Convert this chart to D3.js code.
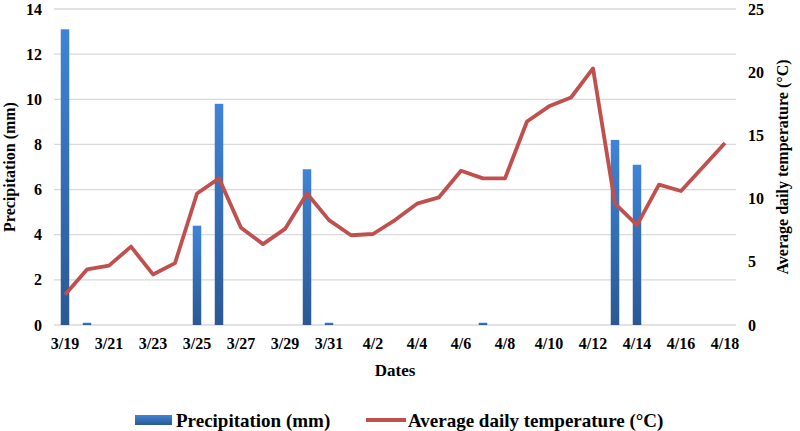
<!DOCTYPE html>
<html><head><meta charset="utf-8">
<script src="https://cdn.jsdelivr.net/npm/d3@7"></script>
<style>body{margin:0;background:#fff}svg{display:block}</style>
</head><body>
<svg id="c" width="800" height="431"></svg>
<script>
const dates = ["3/19","3/20","3/21","3/22","3/23","3/24","3/25","3/26","3/27","3/28","3/29","3/30","3/31","4/1","4/2","4/3","4/4","4/5","4/6","4/7","4/8","4/9","4/10","4/11","4/12","4/13","4/14","4/15","4/16","4/17","4/18"];
const precipitation = [13.1,0.1,0,0,0,0,4.4,9.8,0,0,0,6.9,0.1,0,0,0,0,0,0,0.1,0,0,0,0,0,8.2,7.1,0,0,0,0];
const temperature = [2.4,4.4,4.7,6.2,4.0,4.9,10.4,11.6,7.7,6.4,7.6,10.4,8.3,7.1,7.2,8.3,9.6,10.1,12.2,11.6,11.6,16.1,17.3,18.0,20.3,9.6,7.9,11.1,10.6,12.5,14.4];
const leftTicks = [0,2,4,6,8,10,12,14];
const rightTicks = [0,5,10,15,20,25];

const svg = d3.select("#c");
const m = {l:54, r:64, t:9, b:106};
const W = 800, H = 431;
const x = d3.scaleBand().domain(dates).range([m.l, W-m.r]);
const yL = d3.scaleLinear().domain([0,14]).range([H-m.b, m.t]);
const yR = d3.scaleLinear().domain([0,25]).range([H-m.b, m.t]);
const font = "'Liberation Serif','Times New Roman',serif";

const defs = svg.append("defs");
const g = defs.append("linearGradient").attr("id","bg").attr("x1",0).attr("y1",0).attr("x2",0).attr("y2",1);
g.append("stop").attr("offset","0%").attr("stop-color","#3f84d6");
g.append("stop").attr("offset","100%").attr("stop-color","#2a5894");
const g2 = defs.append("linearGradient").attr("id","lg").attr("x1",0).attr("y1",0).attr("x2",0).attr("y2",1);
g2.append("stop").attr("offset","0%").attr("stop-color","#3f84d6");
g2.append("stop").attr("offset","100%").attr("stop-color","#2a5894");

// gridlines
svg.append("g").selectAll("line").data(leftTicks).join("line")
  .attr("x1", m.l).attr("x2", W-m.r)
  .attr("y1", d=>yL(d)).attr("y2", d=>yL(d))
  .attr("stroke", "#d9d9d9").attr("stroke-width", 1.3);

// left axis
const axL = svg.append("g").attr("transform",`translate(${m.l},0)`)
  .call(d3.axisLeft(yL).tickValues(leftTicks).tickSize(0).tickPadding(12));
axL.select(".domain").remove();
axL.selectAll("text").attr("font-family",font).attr("font-weight","bold").attr("font-size",16).attr("fill","#000");

// right axis
const axR = svg.append("g").attr("transform",`translate(${W-m.r},0)`)
  .call(d3.axisRight(yR).tickValues(rightTicks).tickSize(0).tickPadding(12));
axR.select(".domain").remove();
axR.selectAll("text").attr("font-family",font).attr("font-weight","bold").attr("font-size",16).attr("fill","#000");

// x axis
const axX = svg.append("g").attr("transform",`translate(0,${H-m.b})`)
  .call(d3.axisBottom(x).tickValues(dates.filter((d,i)=>i%2===0)).tickSize(0).tickPadding(13));
axX.select(".domain").remove();
axX.selectAll("text").attr("font-family",font).attr("font-weight","bold").attr("font-size",16).attr("fill","#000");

// bars
const bw = 8.5;
svg.append("g").selectAll("rect").data(dates).join("rect")
  .attr("x", d=>x(d)+x.bandwidth()/2-bw/2)
  .attr("width", bw)
  .attr("y", (d,i)=>yL(precipitation[i]))
  .attr("height", (d,i)=>yL(0)-yL(precipitation[i]))
  .attr("fill", "url(#bg)");

// line
const line = d3.line().x((d,i)=>x(dates[i])+x.bandwidth()/2).y(d=>yR(d));
svg.append("path").datum(temperature).attr("d", line)
  .attr("fill","none").attr("stroke","#c0504d").attr("stroke-width",3.8).attr("stroke-linejoin","round");

// axis titles
svg.append("text").attr("transform",`translate(15,${(yL(0)+yL(14))/2}) rotate(-90)`)
  .attr("text-anchor","middle").attr("font-family",font).attr("font-weight","bold").attr("font-size",16)
  .text("Precipitation (mm)");
svg.append("text").attr("transform",`translate(788,${(yL(0)+yL(14))/2}) rotate(-90)`)
  .attr("text-anchor","middle").attr("font-family",font).attr("font-weight","bold").attr("font-size",16)
  .text("Average daily temperature (°C)");
svg.append("text").attr("x",(m.l+W-m.r)/2).attr("y",376)
  .attr("text-anchor","middle").attr("font-family",font).attr("font-weight","bold").attr("font-size",17)
  .text("Dates");

// legend
svg.append("rect").attr("x",135).attr("y",415).attr("width",37).attr("height",10).attr("fill","url(#lg)");
svg.append("text").attr("x",176).attr("y",427).attr("font-family",font).attr("font-weight","bold").attr("font-size",19)
  .text("Precipitation (mm)");
svg.append("line").attr("x1",366).attr("x2",406).attr("y1",420).attr("y2",420).attr("stroke","#c0504d").attr("stroke-width",3.8);
svg.append("text").attr("x",408).attr("y",427).attr("font-family",font).attr("font-weight","bold").attr("font-size",19)
  .text("Average daily temperature (°C)");
</script>
</body></html>
